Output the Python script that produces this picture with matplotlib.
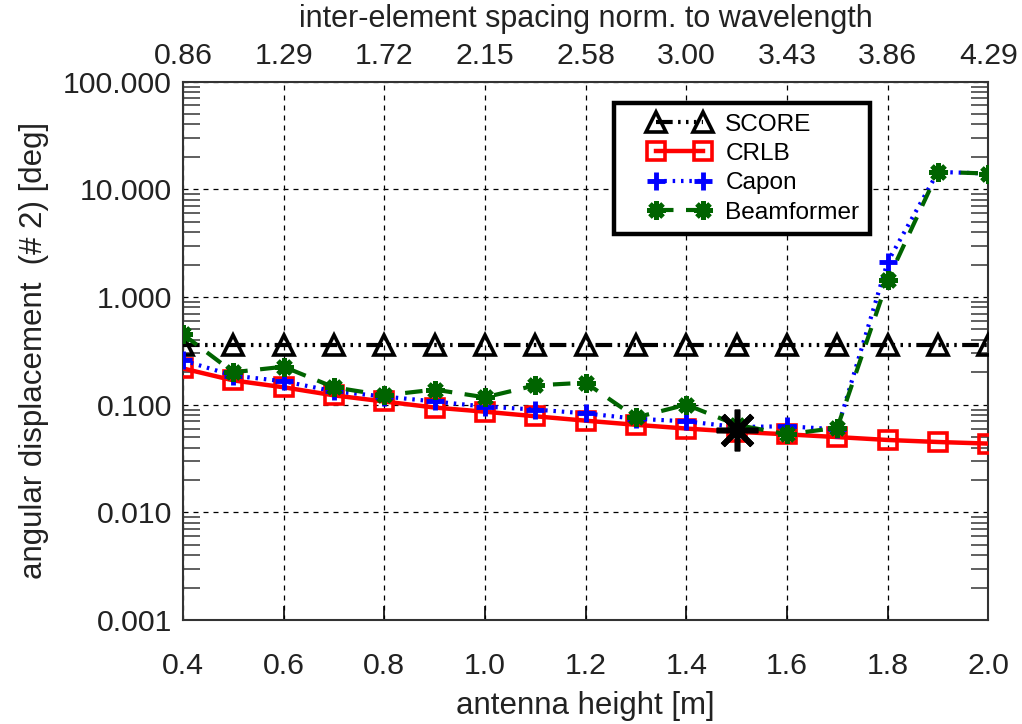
import numpy as np
import matplotlib
matplotlib.use("Agg")
import matplotlib.pyplot as plt
from matplotlib.lines import Line2D
from matplotlib.legend_handler import HandlerLine2D
from matplotlib.ticker import LogLocator, FixedLocator, FixedFormatter, NullFormatter, FuncFormatter

plt.rcParams["font.family"] = ["Liberation Sans", "DejaVu Sans"]

# antenna heights [m]
height = [0.4, 0.5, 0.6, 0.7, 0.8, 0.9, 1.0, 1.1, 1.2, 1.3, 1.4, 1.5, 1.6, 1.7, 1.8, 1.9, 2.0]

# angular displacement [deg] per method
score = [0.36] * 17
crlb = [0.217, 0.168, 0.145, 0.122, 0.107, 0.094, 0.086, 0.078, 0.071, 0.065,
        0.060, 0.056, 0.053, 0.050, 0.047, 0.045, 0.0435]
capon = [0.258, 0.186, 0.165, 0.133, 0.119, 0.107, 0.096, 0.090, 0.083, 0.074,
         0.070, 0.062, 0.063, 0.059, 2.11, 14.5, 14.0]
beamformer = [0.45, 0.20, 0.225, 0.145, 0.122, 0.138, 0.117, 0.151, 0.160, 0.076,
              0.100, 0.065, 0.053, 0.061, 1.43, 14.5, 14.0]

# selected operating point
sel_height = 1.5
sel_value = 0.058

# top axis: inter-element spacing normalised to wavelength
top_ticks = [0.4, 0.6, 0.8, 1.0, 1.2, 1.4, 1.6, 1.8, 2.0]
top_labels = ["0.86", "1.29", "1.72", "2.15", "2.58", "3.00", "3.43", "3.86", "4.29"]

txt = "#222222"
fs = 21.8

fig = plt.figure(figsize=(10.22, 7.24), dpi=100)
ax = fig.add_axes([0.179, 0.1436, 0.788, 0.7437])

ax.plot(height, score, color="black", lw=3.0, ls=(0, (4, 1.3, 0.6, 1.3, 0.6, 1.3, 0.6, 1.3)),
        marker="^", ms=14, mfc="none", mec="black", mew=2.6, label="SCORE", zorder=3)
ax.plot(height, crlb, color="red", lw=3.2, ls="-",
        marker="s", ms=12.5, mfc="none", mec="red", mew=2.6, label="CRLB", zorder=4)
ax.plot(height, capon, color="blue", lw=3.0, ls=(0, (0.6, 1.4)),
        marker="+", ms=13, mew=3.5, mec="blue", label="Capon", zorder=5)
ax.plot(height, beamformer, color="#006400", lw=3.0, ls=(0, (4.2, 3)),
        marker=(8, 2, 0), ms=13, mew=3.5, mec="#006400", label="Beamformer", zorder=6)
ax.plot([sel_height], [sel_value], ls="none", marker=(8, 2, 0), ms=30, mew=4,
        mec="black", zorder=7)

ax.set_yscale("log")
ax.set_xlim(0.4, 2.0)
ax.set_ylim(1e-3, 1e2)

ax.xaxis.set_major_locator(FixedLocator(top_ticks))
ax.xaxis.set_major_formatter(FixedFormatter(["%.1f" % t for t in top_ticks]))
ax.yaxis.set_major_locator(LogLocator(base=10, numticks=10))
ax.yaxis.set_minor_locator(LogLocator(base=10, subs=np.arange(2, 10), numticks=10))
ax.yaxis.set_major_formatter(FuncFormatter(lambda v, p: "%.3f" % v))
ax.yaxis.set_minor_formatter(NullFormatter())

ax.grid(True, which="major", color="black", lw=0.9, ls=(0, (4, 4)))
ax.tick_params(axis="x", which="major", direction="in", length=10, width=1.2,
               top=True, labelsize=fs, pad=23, labelcolor=txt)
ax.tick_params(axis="y", which="major", direction="in", length=0, width=1.2,
               right=True, labelsize=fs, pad=8, labelcolor=txt)
ax.tick_params(axis="y", which="minor", direction="in", length=12, width=1.2,
               right=True, color="#444444")
for s in ax.spines.values():
    s.set_linewidth(1.5)
    s.set_color("#333333")

ax.set_xlabel("antenna height [m]", fontsize=22.5, color=txt, labelpad=8)
ax.set_ylabel("angular displacement  (# 2) [deg]", fontsize=22.5, color=txt, labelpad=10)

top = ax.twiny()
top.set_xlim(ax.get_xlim())
top.xaxis.set_major_locator(FixedLocator(top_ticks))
top.xaxis.set_major_formatter(FixedFormatter(top_labels))
top.tick_params(axis="x", direction="in", length=0, labelsize=fs, pad=8.5, labelcolor=txt)
top.set_xlabel("inter-element spacing norm. to wavelength", fontsize=22,
               color=txt, labelpad=11)
for s in top.spines.values():
    s.set_visible(False)

# markers sit at the ends of each handle, line only between them
leg = ax.legend(loc="upper left", bbox_to_anchor=(0.535, 0.96), numpoints=2,
                fontsize=17.6, handlelength=4.52, handletextpad=-0.38,
                labelspacing=0.3, borderpad=0.42, borderaxespad=0,
                fancybox=False, framealpha=1, edgecolor="black",
                handler_map={Line2D: HandlerLine2D(marker_pad=1.3)})
leg.get_frame().set_linewidth(3.2)
leg.set_zorder(10)

fig.savefig("out.png", dpi=100)
